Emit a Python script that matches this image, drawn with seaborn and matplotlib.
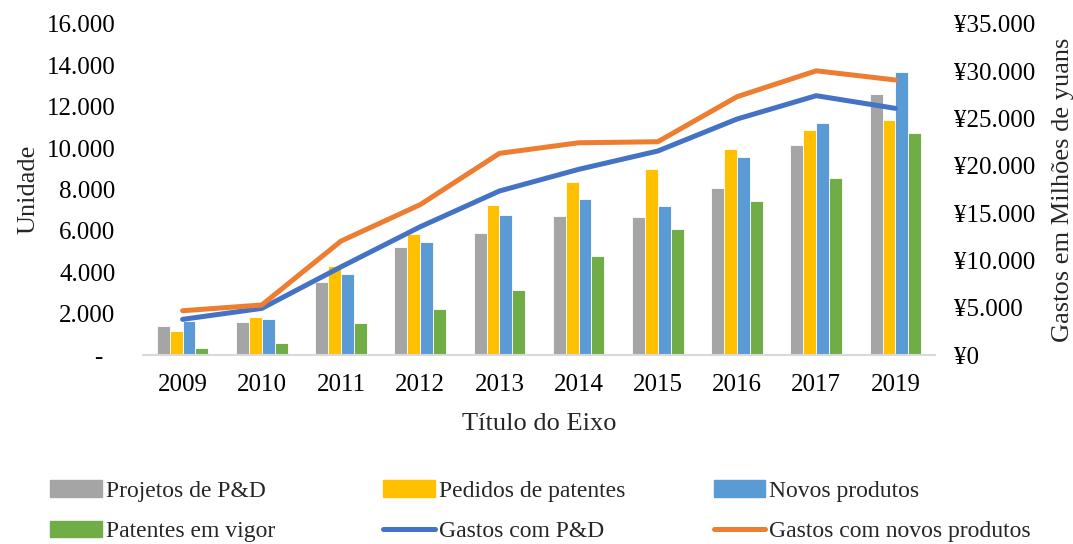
import numpy as np
import pandas as pd
import seaborn as sns
import matplotlib.pyplot as plt
from matplotlib.patches import Patch
from matplotlib.lines import Line2D
from matplotlib.ticker import FuncFormatter

# dados
anos = ['2009', '2010', '2011', '2012', '2013', '2014', '2015', '2016', '2017', '2019']
projetos = [1390, 1600, 3520, 5210, 5910, 6720, 6670, 8060, 10140, 12620]
pedidos = [1180, 1850, 4290, 5870, 7270, 8360, 8990, 9970, 10860, 11350]
novos = [1620, 1760, 3900, 5480, 6750, 7530, 7200, 9560, 11220, 13660]
vigor = [350, 580, 1560, 2230, 3160, 4790, 6080, 7450, 8570, 10720]
gastos_pd = [3770, 4930, 9320, 13560, 17340, 19630, 21570, 24950, 27420, 26080]
gastos_novos = [4680, 5290, 12050, 15900, 21320, 22440, 22550, 27310, 30050, 29080]

series_barras = ['Projetos de P&D', 'Pedidos de patentes', 'Novos produtos', 'Patentes em vigor']
series_linhas = ['Gastos com P&D', 'Gastos com novos produtos']
cores_barras = ['#A5A5A5', '#FFC000', '#5B9BD5', '#70AD47']
cores_linhas = ['#4472C4', '#ED7D31']

barras = pd.DataFrame({'Ano': anos, series_barras[0]: projetos, series_barras[1]: pedidos,
                       series_barras[2]: novos, series_barras[3]: vigor})
barras = barras.melt(id_vars='Ano', var_name='Serie', value_name='Valor')

linhas = pd.DataFrame({'pos': range(len(anos)), series_linhas[0]: gastos_pd,
                       series_linhas[1]: gastos_novos})
linhas = linhas.melt(id_vars='pos', var_name='Serie', value_name='Valor')

sns.set_theme(style='white')
plt.rcParams['font.family'] = ['Liberation Serif', 'DejaVu Serif']

fig = plt.figure(figsize=(10.73, 5.44), dpi=100)
ax = fig.add_axes([0.1333, 0.3474, 0.7381, 0.6085])

sns.barplot(data=barras, x='Ano', y='Valor', hue='Serie', hue_order=series_barras,
            palette=cores_barras, saturation=1, width=0.65, gap=0, edgecolor='white',
            linewidth=0.6, legend=False, ax=ax)
ax.set_ylim(0, 16000)
ax.set_yticks(np.arange(0, 16001, 2000))
ax.yaxis.set_major_formatter(FuncFormatter(lambda v, p: '-  ' if v == 0 else f'{v:,.0f}'.replace(',', '.')))
ax.set_xlim(-0.5, len(anos) - 0.5)
ax.set_ylabel('Unidade', fontsize=19, labelpad=5)
ax.set_xlabel('Título do Eixo', fontsize=19, labelpad=12)

ax2 = ax.twinx()
sns.lineplot(data=linhas, x='pos', y='Valor', hue='Serie', hue_order=series_linhas,
             palette=cores_linhas, linewidth=3.6, sort=False, legend=False, ax=ax2)
for l in ax2.lines:
    l.set_solid_capstyle('round')
    l.set_solid_joinstyle('round')
ax2.set_ylim(0, 35000)
ax2.set_yticks(np.arange(0, 35001, 5000))
ax2.yaxis.set_major_formatter(FuncFormatter(lambda v, p: '¥' + f'{v:,.0f}'.replace(',', '.')))
ax2.set_ylabel('Gastos em Milhões de yuans', fontsize=19, labelpad=12)
ax2.set_xlim(-0.5, len(anos) - 0.5)

for a in (ax, ax2):
    for s in ['top', 'left', 'right']:
        a.spines[s].set_visible(False)
    a.spines['bottom'].set_color('#D9D9D9')
    a.spines['bottom'].set_linewidth(1.5)
    a.tick_params(length=0, labelsize=18, colors='black')
ax2.spines['bottom'].set_visible(False)
ax.tick_params(axis='x', pad=14)
ax.tick_params(axis='y', pad=20)
ax2.tick_params(axis='y', pad=14)

# legenda em três colunas, como no Excel
colunas = [
    [Patch(color=cores_barras[0]), Patch(color=cores_barras[3])],
    [Patch(color=cores_barras[1]), Line2D([], [], color=cores_linhas[0], lw=3.6, solid_capstyle='round')],
    [Patch(color=cores_barras[2]), Line2D([], [], color=cores_linhas[1], lw=3.6, solid_capstyle='round')],
]
rotulos = [
    [series_barras[0], series_barras[3]],
    [series_barras[1], series_linhas[0]],
    [series_barras[2], series_linhas[1]],
]
for xs, h, r in zip([0.047, 0.357, 0.665], colunas, rotulos):
    fig.legend(h, r, loc='upper left', bbox_to_anchor=(xs, 0.117), frameon=False,
               fontsize=17, handlelength=2.2, handletextpad=0.15, labelspacing=0.8,
               borderpad=0, borderaxespad=0)

fig.savefig('out.png', dpi=100)
